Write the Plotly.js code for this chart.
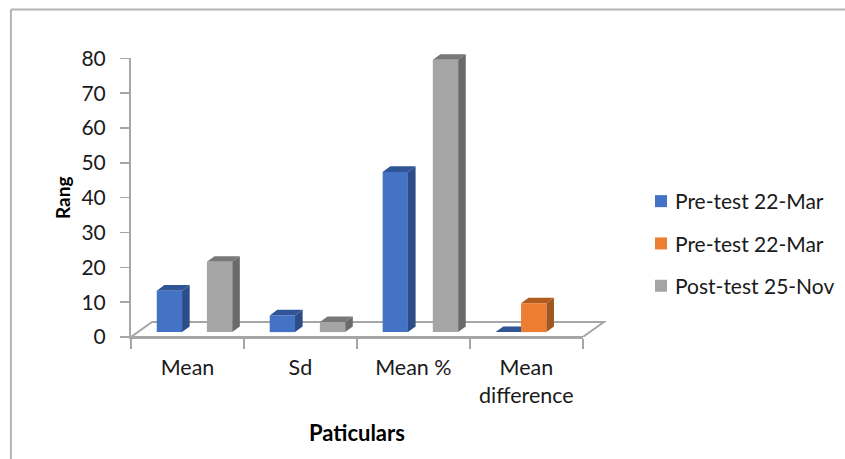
<!DOCTYPE html>
<html><head><meta charset="utf-8">
<script src="https://cdn.plot.ly/plotly-3.0.1.min.js"></script>
<style>html,body{margin:0;padding:0;background:#fff}#c{width:845px;height:459px}</style>
</head><body><div id="c"></div>
<script>
const categories = ["Mean","Sd","Mean %","Mean<br>difference"];
const preTest1 = [11.9,4.8,46,0];
const preTest2 = [null,null,null,8.3];
const postTest = [20.2,2.9,78.2,null];
const seriesNames = ["Pre-test 22-Mar","Pre-test 22-Mar","Post-test 25-Nov"];
const yTicks = [0,10,20,30,40,50,60,70,80];

const W=845,H=459,L=131,PXX=112.875,PXY=3.4825,BOTTOM=337;
const XMAX=4.4,YMAX=85;
const plotW=XMAX*PXX,plotH=YMAX*PXY;
const centers=categories.map((_,i)=>i+0.5);
const BW=0.224,BASE=1.4,DX=0.0675,DY=1.6;
const font='Lato, "Noto Sans", sans-serif';
const grey='#a6a6a6';
const styles=[
 {face:'#4472c4',side:'#2c4d87',top:'#2f5597',off:-0.272},
 {face:'#ed7d31',side:'#a0561f',top:'#b25b1e',off:-0.047},
 {face:'#a5a5a5',side:'#6a6a6a',top:'#787878',off:0.172}];
const series=[preTest1,preTest2,postTest];

const px=p=>(p-L)/plotW, py=p=>(BOTTOM-p)/plotH;
const line=(x0,y0,x1,y1)=>({type:'line',xref:'paper',yref:'paper',x0:px(x0),y0:py(y0),x1:px(x1),y1:py(y1),layer:'below',line:{color:'#b4b4b4',width:2}});
const poly=(pts,fill)=>({type:'path',xref:'x2',yref:'y2',layer:'below',fillcolor:fill,line:{width:0},
  path:'M'+pts.map(p=>p.join(',')).join('L')+'Z'});

const shapes=[line(11,9.5,845,9.5),line(11,9.5,11,459)];
// floor of the 3D chart
const FX=21/PXX,FY=15/PXY;
shapes.push({type:'path',xref:'x2',yref:'y2',layer:'below',fillcolor:'#fff',line:{color:grey,width:2},
  path:`M0,0L${FX},${FY}L${4+FX},${FY}L4,0Z`});
const traces=[{type:'scatter',mode:'lines',x:centers,y:categories.map(()=>null),xaxis:'x',yaxis:'y',showlegend:false,hoverinfo:'skip'}];
series.forEach((vals,s)=>{
  const st=styles[s];
  traces.push({type:'bar',name:seriesNames[s],x:centers,y:vals,base:BASE,width:BW,offset:st.off,
    xaxis:'x2',yaxis:'y2',marker:{color:st.face,line:{width:0}},legendgroup:'g'+s,hoverinfo:'y'});
  vals.forEach((v,i)=>{
    if(v===null) return;
    const a=centers[i]+st.off,b=a+BW,t=BASE+v;
    if(v>0) shapes.push(poly([[b,BASE],[b+DX,BASE+DY],[b+DX,t+DY],[b,t]],st.side));
    shapes.push(poly([[a,t],[a+DX,t+DY],[b+DX,t+DY],[b,t]],st.top));
  });
});

const layout={
 width:W,height:H,paper_bgcolor:'#fff',plot_bgcolor:'rgba(0,0,0,0)',
 margin:{l:L,r:W-L-plotW,t:BOTTOM-plotH,b:H-BOTTOM,pad:0},
 barmode:'group',showlegend:true,
 font:{family:font,color:'#1a1a1a',size:21.5},
 xaxis:{domain:[0,4/XMAX],range:[0,4],anchor:'y',tickmode:'array',tickvals:centers,ticktext:categories,
   ticks:'',ticklabelstandoff:10,showgrid:false,zeroline:false,showline:true,linecolor:grey,linewidth:2,
   tickfont:{size:21.5,family:font},
   minor:{tickmode:'array',tickvals:[0,1,2,3,4],ticks:'outside',ticklen:10,tickwidth:1.5,tickcolor:grey,showgrid:false},
   title:{text:'<b>Paticulars</b>',font:{size:22,family:font,color:'#000'},standoff:19}},
 yaxis:{domain:[0,80/YMAX],range:[0,80],anchor:'x',tickmode:'array',tickvals:yTicks,ticks:'outside',ticklen:9,tickwidth:1.5,tickcolor:grey,
   showgrid:false,zeroline:false,showline:true,linecolor:grey,linewidth:2,tickfont:{size:21,family:font},ticklabelstandoff:10,
   title:{text:'<b>Rang</b>',font:{size:19,family:font,color:'#000'},standoff:6}},
 xaxis2:{domain:[0,1],range:[0,XMAX],anchor:'y2',visible:false,fixedrange:true},
 yaxis2:{domain:[0,1],range:[0,YMAX],anchor:'x2',visible:false,fixedrange:true},
 legend:{xref:'container',yref:'container',x:635/W,y:1-181/H,xanchor:'left',yanchor:'top',bgcolor:'rgba(0,0,0,0)',tracegroupgap:12,
   font:{size:21,family:font,color:'#1a1a1a'},itemclick:false,itemdoubleclick:false},
 shapes:shapes
};
Plotly.newPlot('c',traces,layout,{displayModeBar:false,staticPlot:true}).then(()=>{
  document.querySelectorAll('#c .legendpoints').forEach(n=>n.setAttribute('transform','translate(6,0)'));
});
</script></body></html>
